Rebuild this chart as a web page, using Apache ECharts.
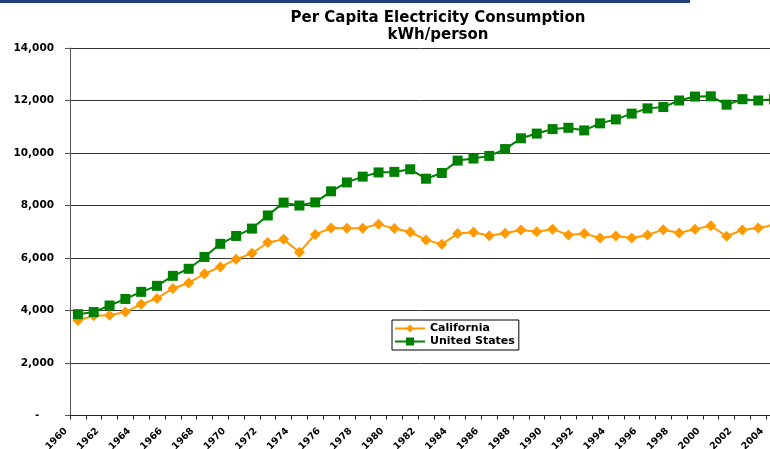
<!DOCTYPE html>
<html>
<head>
<meta charset="utf-8">
<script src="https://cdn.jsdelivr.net/npm/echarts@6/dist/echarts.min.js"></script>
<style>
html,body{margin:0;padding:0;background:#fff;overflow:hidden;}
#chart{width:770px;height:449px;}
</style>
</head>
<body>
<div id="chart"></div>
<script>
const titleLines = ['Per Capita Electricity Consumption', 'kWh/person'];
const years = ['1960','1961','1962','1963','1964','1965','1966','1967','1968','1969',
  '1970','1971','1972','1973','1974','1975','1976','1977','1978','1979',
  '1980','1981','1982','1983','1984','1985','1986','1987','1988','1989',
  '1990','1991','1992','1993','1994','1995','1996','1997','1998','1999',
  '2000','2001','2002','2003','2004'];
const california = [3620,3800,3820,3940,4240,4460,4840,5050,5400,5660,
  5950,6180,6590,6710,6220,6900,7140,7130,7130,7290,
  7120,6990,6690,6520,6930,6980,6850,6940,7070,7000,
  7100,6880,6930,6760,6840,6760,6880,7080,6950,7100,
  7230,6830,7070,7140,7260];
const unitedStates = [3860,3940,4190,4440,4710,4940,5320,5590,6040,6540,
  6840,7120,7620,8110,8000,8120,8540,8880,9100,9260,
  9280,9380,9020,9240,9710,9790,9890,10150,10560,10740,
  10910,10960,10860,11130,11280,11500,11700,11750,12000,12150,
  12160,11840,12050,12000,12050];
const seriesNames = ['California', 'United States'];
const yTicks = {min: 0, max: 14000, interval: 2000};

const chart = echarts.init(document.getElementById('chart'), null, {renderer: 'canvas'});
const FONT = 'DejaVu Sans';
chart.setOption({
  backgroundColor: '#fff',
  animation: false,
  graphic: [{
    type: 'rect', left: 0, top: 0, z: 100,
    shape: {width: 690, height: 3},
    style: {fill: '#213F78'}
  }],
  title: {
    text: titleLines.join('\n'),
    left: 433, top: 5, textAlign: 'center',
    textStyle: {fontFamily: FONT, fontWeight: 'bold', fontSize: 15, lineHeight: 17, color: '#000'}
  },
  legend: {
    orient: 'vertical', left: 392, top: 320,
    itemWidth: 30, itemHeight: 10, itemGap: 2,
    padding: [3, 4, 3, 2],
    borderColor: '#000', borderWidth: 1, backgroundColor: '#fff',
    textStyle: {fontFamily: FONT, fontWeight: 'bold', fontSize: 11, color: '#000'},
    data: seriesNames
  },
  grid: {left: 70, width: 712, top: 48, height: 367.5, containLabel: false, outerBoundsMode: 'none'},
  xAxis: {
    type: 'category', data: years, boundaryGap: true,
    axisLine: {lineStyle: {color: '#222', width: 1}},
    axisTick: {show: true, interval: 0, length: 4, lineStyle: {color: '#222'}},
    axisLabel: {interval: 1, rotate: 45, margin: 2, padding: [0, 17, 0, 0],
      fontFamily: FONT, fontWeight: 'bold', fontSize: 9.5, color: '#000'},
    splitLine: {show: false}
  },
  yAxis: {
    type: 'value', min: yTicks.min, max: yTicks.max, interval: yTicks.interval,
    axisLine: {show: true, lineStyle: {color: '#555', width: 1}},
    axisTick: {show: true, length: 5, lineStyle: {color: '#555'}},
    axisLabel: {margin: 16, fontFamily: FONT, fontWeight: 'bold', fontSize: 10.5, color: '#000',
      formatter: v => v === 0 ? '-\u00a0\u00a0\u00a0\u00a0' : v.toLocaleString('en-US')},
    splitLine: {show: true, lineStyle: {color: '#333', width: 1}}
  },
  series: [
    {name: seriesNames[0], type: 'line', data: california, showAllSymbol: true,
     symbol: 'diamond', symbolSize: 11, color: '#FF9900',
     lineStyle: {width: 2, color: '#FF9900'}, itemStyle: {color: '#FF9900'}},
    {name: seriesNames[1], type: 'line', data: unitedStates, showAllSymbol: true,
     symbol: 'rect', symbolSize: 10, color: '#008000',
     lineStyle: {width: 2, color: '#008000'}, itemStyle: {color: '#008000'}}
  ]
});
</script>
</body>
</html>
